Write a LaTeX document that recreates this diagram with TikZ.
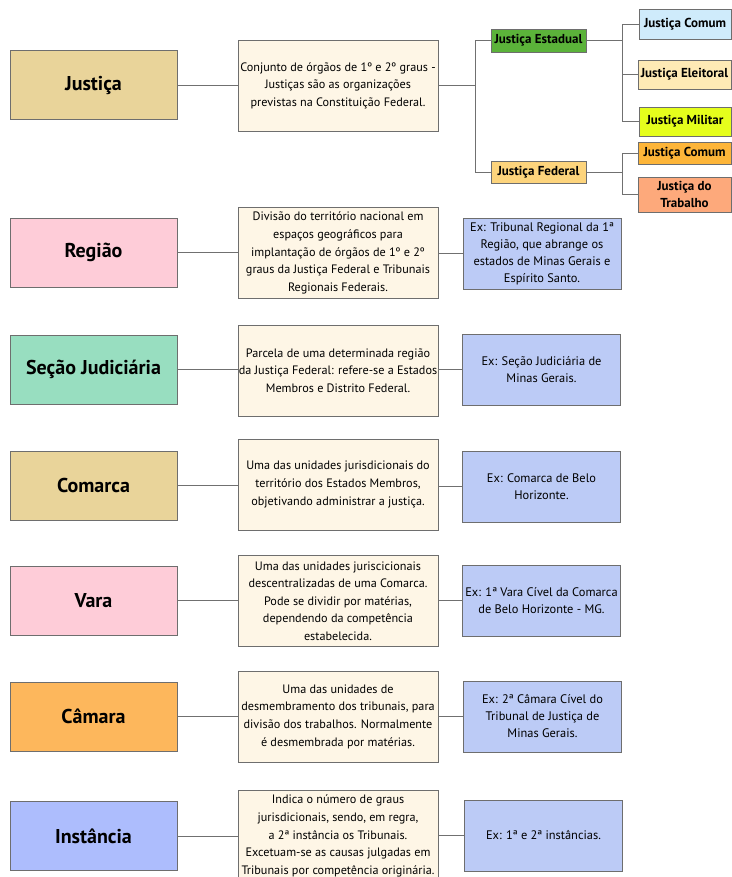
\documentclass[tikz,border=0pt]{standalone}
\usepackage{fontspec}
\setmainfont{PT Sans}
\usetikzlibrary{calc}

\definecolor{boxline}{HTML}{6E6E6E}
\definecolor{linecol}{HTML}{707070}
\definecolor{tanfill}{HTML}{E9D49A}
\definecolor{pinkfill}{HTML}{FECCD8}
\definecolor{mintfill}{HTML}{98DEC0}
\definecolor{orangefill}{HTML}{FDB75C}
\definecolor{bluefill}{HTML}{ADBDFD}
\definecolor{descfill}{HTML}{FEF6E6}
\definecolor{exfill}{HTML}{BCCBF6}
\definecolor{estfill}{HTML}{5BB33A}
\definecolor{fedfill}{HTML}{FDD47C}
\definecolor{comumfill}{HTML}{CFEBFB}
\definecolor{eleitfill}{HTML}{FEEAB5}
\definecolor{militfill}{HTML}{E5FE1C}
\definecolor{comumfedfill}{HTML}{FDB539}
\definecolor{trabfill}{HTML}{FDA97B}

\begin{document}
\begin{tikzpicture}[x=1pt,y=-1pt,
  box/.style={draw=boxline, line width=0.9pt, inner sep=0pt, align=center},
  title/.style={box, minimum width=167pt, minimum height=69pt,
    font=\fontsize{20}{24}\selectfont\bfseries},
  desc/.style={box, fill=descfill, minimum width=200pt, minimum height=91pt,
    font=\fontsize{12.2}{17.6}\selectfont},
  example/.style={box, fill=exfill, minimum width=158pt, minimum height=71pt,
    font=\fontsize{12.4}{17}\selectfont},
  branch/.style={box, font=\fontsize{13}{17}\selectfont\bfseries},
  link/.style={draw=linecol, line width=0.9pt}
]
\useasboundingbox (0,0) rectangle (731,877);

% ---- Justiça ----
\node[title, fill=tanfill] (jus) at (93.5,85) {Justiça};
\node[desc] (jusd) at (338,85.5) {Conjunto de órgãos de 1º e 2º graus -\\Justiças são as organizações\\previstas na Constituição Federal.};

\node[branch, fill=estfill, minimum width=95pt, minimum height=23pt] (est) at (538.5,40.5) {Justiça Estadual};
\node[branch, fill=fedfill, minimum width=95pt, minimum height=22pt] (fed) at (538.5,172) {Justiça Federal};

\node[branch, fill=comumfill, minimum width=92pt, minimum height=30pt] (ecom) at (685,24) {Justiça Comum};
\node[branch, fill=eleitfill, minimum width=93pt, minimum height=29pt] (eele) at (684.5,74.5) {Justiça Eleitoral};
\node[branch, fill=militfill, minimum width=92pt, minimum height=29pt] (emil) at (685,121.5) {Justiça Militar};
\node[branch, fill=comumfedfill, minimum width=93pt, minimum height=22pt] (fcom) at (684.5,153) {Justiça Comum};
\node[branch, fill=trabfill, minimum width=93pt, minimum height=35pt] (ftrab) at (684.5,194.5) {Justiça do\\Trabalho};

\draw[link] (jus.east) -- (jus.east -| jusd.west);
\coordinate (t1) at ($(jusd.east)+(37,0)$);
\draw[link] (jusd.east) -- (t1);
\draw[link] (est.west) -- (est.west -| t1) -- (fed.west -| t1) -- (fed.west);

\coordinate (t2) at ($(est.east)+(36,0)$);
\draw[link] (est.east) -- (t2);
\draw[link] (ecom.west) -- (ecom.west -| t2) -- (emil.west -| t2) -- (emil.west);
\draw[link] (eele.west) -- (eele.west -| t2);

\coordinate (t3) at ($(fed.east)+(36,0)$);
\draw[link] (fed.east) -- (t3);
\draw[link] (fcom.west) -- (fcom.west -| t3) -- (ftrab.west -| t3) -- (ftrab.west);

% ---- Região ----
\node[title, fill=pinkfill] (reg) at (93.5,252.5) {Região};
\node[desc] (regd) at (338,253) {Divisão do território nacional em\\espaços geográficos para\\implantação de órgãos de 1º e 2º\\graus da Justiça Federal e Tribunais\\Regionais Federais.};
\node[example] (rege) at (542,253.5) {Ex: Tribunal Regional da 1ª\\Região, que abrange os\\estados de Minas Gerais e\\Espírito Santo.};

% ---- Seção Judiciária ----
\node[title, fill=mintfill] (sec) at (93.5,369.5) {Seção Judiciária};
\node[desc] (secd) at (338,370.5) {Parcela de uma determinada região\\da Justiça Federal: refere-se a Estados\\Membros e Distrito Federal.};
\node[example] (sece) at (541.5,369.5) {Ex: Seção Judiciária de\\Minas Gerais.};

% ---- Comarca ----
\node[title, fill=tanfill] (com) at (93.5,485.5) {Comarca};
\node[desc] (comd) at (338,484.5) {Uma das unidades jurisdicionais do\\território dos Estados Membros,\\objetivando administrar a justiça.};
\node[example] (come) at (541.5,486.5) {Ex: Comarca de Belo\\Horizonte.};

% ---- Vara ----
\node[title, fill=pinkfill] (var) at (93.5,600.5) {Vara};
\node[desc] (vard) at (338,601) {Uma das unidades juriscicionais\\descentralizadas de uma Comarca.\\Pode se dividir por matérias,\\dependendo da competência\\estabelecida.};
\node[example] (vare) at (541.5,600.5) {Ex: 1ª Vara Cível da Comarca\\de Belo Horizonte - MG.};

% ---- Câmara ----
\node[title, fill=orangefill] (cam) at (93.5,716.5) {Câmara};
\node[desc] (camd) at (338,716.5) {Uma das unidades de\\desmembramento dos tribunais, para\\divisão dos trabalhos. Normalmente\\é desmembrada por matérias.};
\node[example] (came) at (542.5,716.5) {Ex: 2ª Câmara Cível do\\Tribunal de Justiça de\\Minas Gerais.};

% ---- Instância ----
\node[title, fill=bluefill] (ins) at (93.5,836) {Instância};
\node[desc] (insd) at (338,836) {Indica o número de graus\\jurisdicionais, sendo, em regra,\\a 2ª instância os Tribunais.\\Excetuam-se as causas julgadas em\\Tribunais por competência originária.};
\node[example] (inse) at (543.5,835.5) {Ex: 1ª e 2ª instâncias.};

% row connectors
\foreach \a/\b/\c in {reg/regd/rege, sec/secd/sece, com/comd/come, var/vard/vare, cam/camd/came, ins/insd/inse}{
  \draw[link] (\a.east) -- (\a.east -| \b.west);
  \draw[link] (\b.east |- \c.west) -- (\c.west);
}
\end{tikzpicture}
\end{document}
